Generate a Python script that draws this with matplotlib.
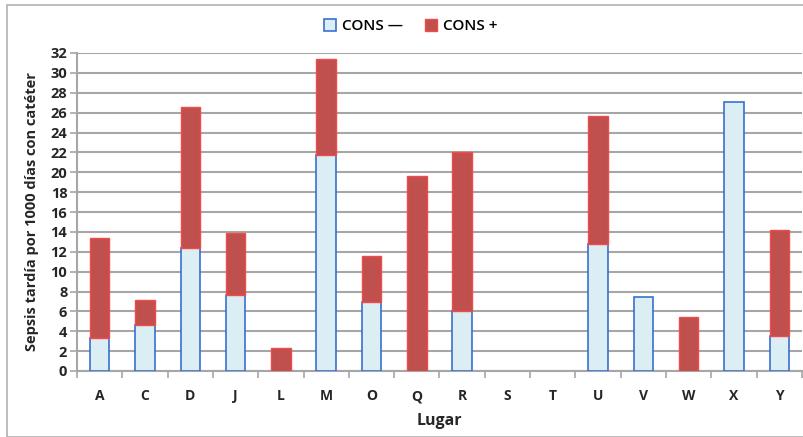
import numpy as np
import matplotlib
matplotlib.use('Agg')
import matplotlib.pyplot as plt
from matplotlib.patches import Rectangle

plt.rcParams['font.family'] = ['Open Sans', 'DejaVu Sans']

lugares = ['A', 'C', 'D', 'J', 'L', 'M', 'O', 'Q', 'R', 'S', 'T', 'U', 'V', 'W', 'X', 'Y']
cons_menos = [3.3, 4.65, 12.4, 7.6, 0, 21.7, 6.9, 0, 6.05, 0, 0, 12.8, 7.4, 0, 27.05, 3.5]
cons_total = [13.4, 7.15, 26.6, 13.9, 2.3, 31.4, 11.6, 19.6, 22.0, 0, 0, 25.7, 7.4, 5.4, 27.05, 14.2]
cons_mas = [t - m for t, m in zip(cons_total, cons_menos)]
yticks = list(range(0, 33, 2))

grid_col = '#a6a6a6'
txt_col = '#262626'

fig = plt.figure(figsize=(8.04, 4.37), dpi=100)
fig.patches.append(Rectangle((7/804, 0), 1.0, 1 - 5/437, transform=fig.transFigure,
                             fill=False, edgecolor='#b0b0b0', linewidth=1.2))
ax = fig.add_axes([77/804, 66/437, 725/804, 318/437])

x = np.arange(len(lugares))
w = 0.43
m = np.array(cons_menos)
p = np.array(cons_mas)
ax.bar(x[m > 0], m[m > 0], w, color='#dbeef4', edgecolor='#3a6fd0', linewidth=1.2,
       label='CONS \u2014', zorder=3)
ax.bar(x[p > 0], p[p > 0], w, bottom=m[p > 0], color='#c0504d', edgecolor='#f04a4a',
       linewidth=1.0, label='CONS +', zorder=3)

ax.set_xlim(-0.5, len(lugares) - 0.5)
ax.set_ylim(0, 32)
ax.set_yticks(yticks)
ax.yaxis.grid(True, color=grid_col, linewidth=1.5)
ax.set_axisbelow(True)
ax.set_xticks(x)
ax.set_xticklabels(lugares)
ax.set_xticks(np.arange(-0.5, len(lugares), 1), minor=True)
ax.tick_params(axis='x', which='major', length=0, pad=13, labelsize=10, colors=txt_col)
ax.tick_params(axis='x', which='minor', length=5, color=grid_col, width=1.2)
ax.tick_params(axis='y', length=5, color=grid_col, width=1.2, labelsize=10.5,
               colors=txt_col, pad=2)
for lab in ax.get_xticklabels() + ax.get_yticklabels():
    lab.set_fontweight('bold')

for s in ['top', 'right']:
    ax.spines[s].set_visible(False)
for s in ['left', 'bottom']:
    ax.spines[s].set_color(grid_col)
    ax.spines[s].set_linewidth(1.5)

ax.set_ylabel('Sepsis tardía por 1000 días con catéter', fontsize=10.5, fontweight='bold',
              color=txt_col, labelpad=8)
ax.set_xlabel('Lugar', fontsize=11.5, fontweight='bold', color=txt_col, labelpad=7)

fig.legend(loc='center', bbox_to_anchor=(0.511, 1 - 26/437), ncol=2, frameon=False,
           handlelength=0.8, handleheight=0.8, columnspacing=1.4,
           handletextpad=0.4, prop={'weight': 'semibold', 'size': 11})

fig.savefig('out.png', dpi=100)
